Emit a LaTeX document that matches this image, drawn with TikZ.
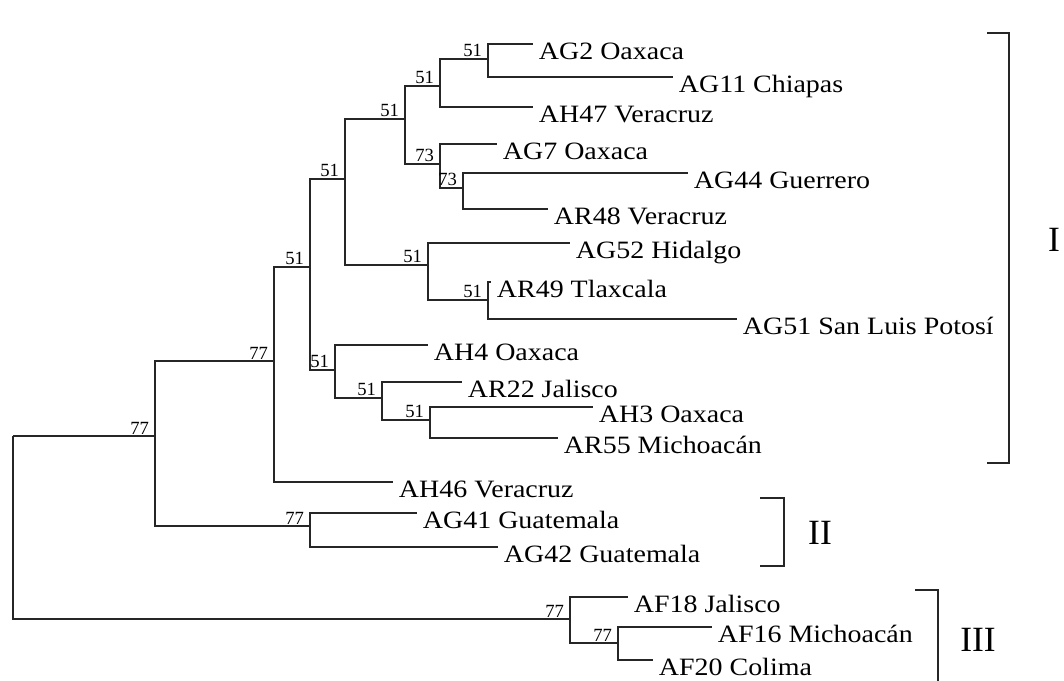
\documentclass[tikz,border=0pt]{standalone}
\usepackage{fontspec}
\setmainfont{Liberation Serif}
\newfontfamily\leaffont[FakeStretch=1.12]{Liberation Serif}

\begin{document}
\begin{tikzpicture}[x=0.1mm, y=-0.1mm, line width=0.55pt, draw=black!85,
    leaf/.style={anchor=west, inner xsep=0.5mm, inner ysep=0pt, text height=0.9em, text depth=0pt, font=\leaffont\fontsize{7.1}{8}\selectfont},
    boot/.style={anchor=south east, inner xsep=0.5mm, inner ysep=0.1mm, font=\fontsize{5.3}{6}\selectfont},
    clade/.style={font=\fontsize{10.1}{11}\selectfont},
    bracket/.style={line width=0.65pt}]
	\useasboundingbox (0,0) rectangle (1064,681);
	% inner nodes, placed where the branch from the parent comes in
	\coordinate (root) at (13,436);
	\coordinate (n1) at (155,436);
	\coordinate (n2) at (274,361);
	\coordinate (n3) at (310,267);
	\coordinate (n4) at (345,179);
	\coordinate (n5) at (405,119);
	\coordinate (n6) at (440,86);
	\coordinate (n7) at (488,59);
	\coordinate (n8) at (440,164);
	\coordinate (n9) at (463,188);
	\coordinate (n10) at (428,265);
	\coordinate (n11) at (488,300);
	\coordinate (n12) at (335,370);
	\coordinate (n13) at (382,398);
	\coordinate (n14) at (430,420);
	\coordinate (n15) at (310,526);
	\coordinate (n16) at (570,619);
	\coordinate (n17) at (618,643);
	% leaves
	\node[leaf] (ag2) at (533,44) {AG2 Oaxaca};
	\node[leaf] (ag11) at (673,77) {AG11 Chiapas};
	\node[leaf] (ah47) at (533,107) {AH47 Veracruz};
	\node[leaf] (ag7) at (497,144) {AG7 Oaxaca};
	\node[leaf] (ag44) at (688,173) {AG44 Guerrero};
	\node[leaf] (ar48) at (548,209) {AR48 Veracruz};
	\node[leaf] (ag52) at (570,243) {AG52 Hidalgo};
	\node[leaf] (ar49) at (491,282) {AR49 Tlaxcala};
	\node[leaf] (ag51) at (737,319) {AG51 San Luis Potosí};
	\node[leaf] (ah4) at (428,345) {AH4 Oaxaca};
	\node[leaf] (ar22) at (462,382) {AR22 Jalisco};
	\node[leaf] (ah3) at (593,407) {AH3 Oaxaca};
	\node[leaf] (ar55) at (558,438) {AR55 Michoacán};
	\node[leaf] (ah46) at (393,482) {AH46 Veracruz};
	\node[leaf] (ag41) at (417,513) {AG41 Guatemala};
	\node[leaf] (ag42) at (498,547) {AG42 Guatemala};
	\node[leaf] (af18) at (628,597) {AF18 Jalisco};
	\node[leaf] (af16) at (712,627) {AF16 Michoacán};
	\node[leaf] (af20) at (653,660) {AF20 Colima};
	% branches
	\foreach \p/\c in {root/n1, root/n16, n1/n2, n1/n15, n2/n3, n3/n4, n3/n12,
	    n4/n5, n4/n10, n5/n6, n5/n8, n6/n7, n8/n9, n10/n11, n12/n13, n13/n14, n16/n17}
		\draw (\p) |- (\c);
	\foreach \p/\c in {n7/ag2, n7/ag11, n6/ah47, n8/ag7, n9/ag44, n9/ar48, n10/ag52,
	    n11/ar49, n11/ag51, n12/ah4, n13/ar22, n14/ah3, n14/ar55, n2/ah46,
	    n15/ag41, n15/ag42, n16/af18, n17/af16, n17/af20}
		\draw (\p) |- (\c.west);
	% bootstrap values
	\foreach \c/\v in {n7/51, n6/51, n5/51, n8/73, n9/73, n4/51, n10/51, n11/51,
	    n3/51, n12/51, n13/51, n14/51, n2/77, n1/77, n15/77, n16/77, n17/77}
		\node[boot] (b\c) at (\c) {\v};
	% clades
	\draw[bracket] (987,33) -| (1009,463) -- (987,463);
	\node[clade] (cI) at (1054,240) {I};
	\draw[bracket] (760,498) -| (784,566) -- (760,566);
	\node[clade] (cII) at (820,533) {II};
	\draw[bracket] (915,590) -| (938,681);
	\node[clade] (cIII) at (978,640) {III};
\end{tikzpicture}
\end{document}
